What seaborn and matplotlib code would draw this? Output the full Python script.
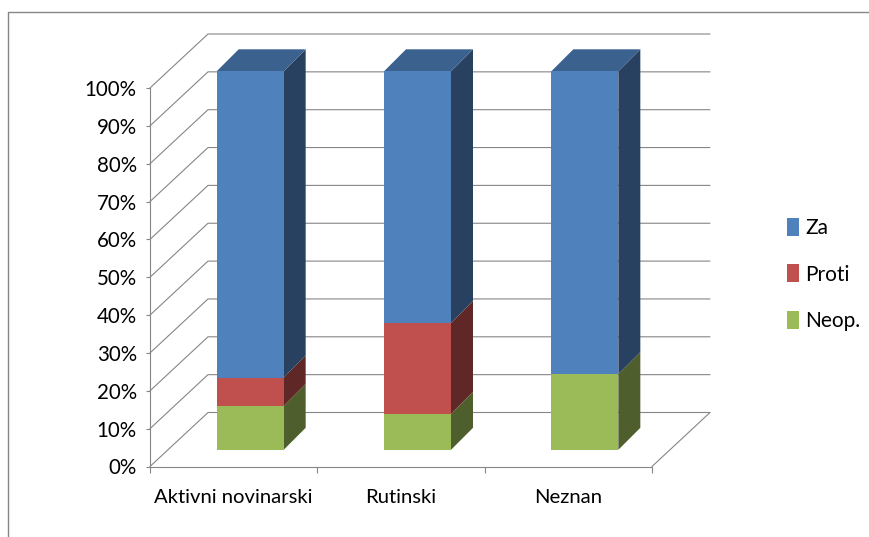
import matplotlib
matplotlib.use("Agg")
import matplotlib.pyplot as plt
import matplotlib.transforms as mtrans
from matplotlib.lines import Line2D
from matplotlib.patches import Patch
import pandas as pd
import seaborn as sns

# Chart data (percent of each category)
categories = ["Aktivni novinarski", "Rutinski", "Neznan"]
series_names = ["Za", "Proti", "Neop."]
neop = [11.6, 9.5, 20.0]
proti = [7.5, 24.0, 0.0]
za = [80.9, 66.5, 80.0]
y_ticks = list(range(0, 101, 10))

# Colours: front face, side face, top face
front_colors = {"Za": "#4F81BD", "Proti": "#C0504D", "Neop.": "#9BBB59"}
side_colors = {"Za": "#284160", "Proti": "#5F2826", "Neop.": "#4E5E2C"}
top_color = "#3B618F"
line_color = "#868686"

sns.set_style("white")
plt.rcParams["font.family"] = ["Lato", "DejaVu Sans"]

W, H = 869, 537
fig = plt.figure(figsize=(W / 100, H / 100), dpi=100)
ax = fig.add_axes([150 / W, (H - 466.5) / H, 502 / W, 378.5 / H])

# Pixel sizes of the fake 3D projection, turned into data units
px_x = 3 / 502
px_y = 100 / 378.5
wall_dx, wall_dy = 58 * px_x, 54 * px_y
bar_dx, bar_dy = 16.5 * px_x, 16.7 * px_y
depth_dx, depth_dy = 22 * px_x, 22 * px_y
bar_width = 67 * px_x

# Stack the series: draw cumulative bars, tallest first
df = pd.DataFrame({"category": categories, "Neop.": neop, "Proti": proti, "Za": za})
df["top_neop"] = df["Neop."]
df["top_proti"] = df["top_neop"] + df["Proti"]
df["top_za"] = df["top_proti"] + df["Za"]

for col, name in [("top_za", "Za"), ("top_proti", "Proti"), ("top_neop", "Neop.")]:
    sns.barplot(data=df, x="category", y=col, color=front_colors[name], saturation=1,
                width=bar_width, ax=ax, zorder=4)

ax.set_xlim(-0.5, 2.5)
ax.set_ylim(0, 100)

# Move the bars back from the front edge of the floor
shift = mtrans.Affine2D().translate(bar_dx, bar_dy) + ax.transData
for patch in ax.patches:
    patch.set_transform(shift)
    patch.set_clip_on(False)
    patch.set_linewidth(0)

# Side and top faces of each bar
for i in range(len(categories)):
    right = i + bar_width / 2 + bar_dx
    left = i - bar_width / 2 + bar_dx
    lows = [0, neop[i], neop[i] + proti[i]]
    highs = [neop[i], neop[i] + proti[i], neop[i] + proti[i] + za[i]]
    for lo, hi, name in zip(lows, highs, ["Neop.", "Proti", "Za"]):
        if hi == lo:
            continue
        ax.fill([right, right + depth_dx, right + depth_dx, right],
                [lo + bar_dy, lo + bar_dy + depth_dy, hi + bar_dy + depth_dy, hi + bar_dy],
                color=side_colors[name], lw=0, zorder=3, clip_on=False)
    top = highs[-1] + bar_dy
    ax.fill([left, right, right + depth_dx, left + depth_dx],
            [top, top, top + depth_dy, top + depth_dy],
            color=top_color, lw=0, zorder=3, clip_on=False)

# Walls: diagonal grid on the left wall, flat grid on the back wall
for v in y_ticks:
    ax.plot([-0.5, -0.5 + wall_dx, 2.5 + wall_dx], [v, v + wall_dy, v + wall_dy],
            color=line_color, lw=0.8, zorder=1, clip_on=False)
# Right edge of the floor
ax.plot([2.5, 2.5 + wall_dx], [0, wall_dy], color=line_color, lw=0.8, zorder=1, clip_on=False)

# Axes and ticks
sns.despine(ax=ax, top=True, right=True)
for side in ["left", "bottom"]:
    ax.spines[side].set_color(line_color)
    ax.spines[side].set_linewidth(0.8)
ax.set_xlabel("")
ax.set_ylabel("")
ax.set_yticks(y_ticks)
ax.set_yticklabels([f"{v}%" for v in y_ticks])
ax.set_xticks([-0.5, 0.5, 1.5, 2.5], minor=True)
ax.tick_params(axis="x", which="major", length=0, pad=16, labelsize=14.6, labelcolor="black")
ax.tick_params(axis="x", which="minor", bottom=True, length=4.5, width=0.8, color=line_color)
ax.tick_params(axis="y", left=True, length=3, width=0.8, color=line_color, pad=6.5,
               labelsize=14.8, labelcolor="black")

# Legend
handles = [Patch(facecolor=front_colors[n], edgecolor="none", label=n) for n in series_names]
fig.legend(handles=handles, loc="center left", bbox_to_anchor=(787 / W, (H - 274.5) / H),
           frameon=False, fontsize=15, labelspacing=1.25, handlelength=0.58,
           handleheight=0.95, handletextpad=0.3, labelcolor="black", borderpad=0, borderaxespad=0)

# Chart frame: only the left and top edges are inside the picture
fig.add_artist(Line2D([8 / W, 8 / W, 1], [0, (H - 12) / H, (H - 12) / H], color=line_color, lw=1))

fig.savefig("out.png", dpi=100)
